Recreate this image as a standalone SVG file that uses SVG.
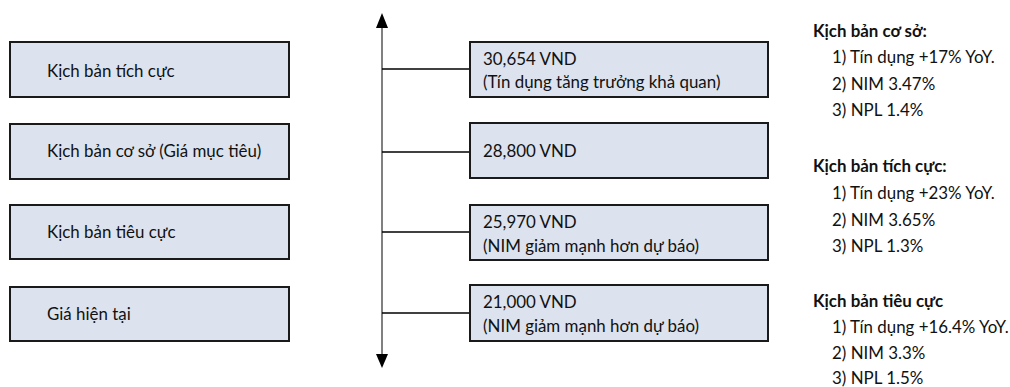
<svg xmlns="http://www.w3.org/2000/svg" width="1010" height="387" viewBox="0 0 1010 387">
<defs>
<style>
.box{fill:#DCE3EE;stroke:#1a1a1a;stroke-width:2}
.t{font-family:Lato,"Noto Sans",sans-serif;font-size:16.9px;fill:#111}
.h{font-weight:bold}
.axis{stroke:#808080;stroke-width:2;fill:none}
.conn{stroke:#000;stroke-width:1.6;fill:none}
.head{fill:#000}
</style>
</defs>
<rect width="1010" height="387" fill="#fff"/>
<g id="connectors">
<line class="axis" x1="382" y1="28" x2="382" y2="354"/>
<path class="head" d="M376,28 L388,28 L382,13 z"/>
<path class="head" d="M376,354 L388,354 L382,368 z"/>
<line class="conn" x1="382" y1="69" x2="470" y2="69"/>
<line class="conn" x1="382" y1="152" x2="470" y2="152"/>
<line class="conn" x1="382" y1="232" x2="470" y2="232"/>
<line class="conn" x1="382" y1="313" x2="470" y2="313"/>
</g>
<g id="left-positive">
<rect class="box" x="10" y="42" width="279" height="55"/>
<text class="t" x="47" y="77">Kịch bản tích cực</text>
</g>
<g id="left-base">
<rect class="box" x="10" y="124" width="279" height="55"/>
<text class="t" x="47" y="157">Kịch bản cơ sở (Giá mục tiêu)</text>
</g>
<g id="left-negative">
<rect class="box" x="10" y="205" width="279" height="54"/>
<text class="t" x="47" y="238">Kịch bản tiêu cực</text>
</g>
<g id="left-current">
<rect class="box" x="10" y="287" width="279" height="54"/>
<text class="t" x="47" y="320">Giá hiện tại</text>
</g>
<g id="right-positive">
<rect class="box" x="470" y="42" width="298" height="55"/>
<text class="t" x="483" y="65">30,654 VND</text>
<text class="t" x="483" y="88">(Tín dụng tăng trưởng khả quan)</text>
</g>
<g id="right-base">
<rect class="box" x="470" y="123" width="298" height="55"/>
<text class="t" x="483" y="157">28,800 VND</text>
</g>
<g id="right-negative">
<rect class="box" x="470" y="205" width="298" height="55"/>
<text class="t" x="483" y="228">25,970 VND</text>
<text class="t" x="483" y="252">(NIM giảm mạnh hơn dự báo)</text>
</g>
<g id="right-current">
<rect class="box" x="470" y="285" width="298" height="56"/>
<text class="t" x="483" y="308">21,000 VND</text>
<text class="t" x="483" y="332">(NIM giảm mạnh hơn dự báo)</text>
</g>
<g id="notes-base">
<text class="t h" x="813" y="37">Kịch bản cơ sở:</text>
<text class="t" x="832" y="63">1) Tín dụng +17% YoY.</text>
<text class="t" x="832" y="90">2) NIM 3.47%</text>
<text class="t" x="832" y="116">3) NPL 1.4%</text>
</g>
<g id="notes-positive">
<text class="t h" x="813" y="172">Kịch bản tích cực:</text>
<text class="t" x="832" y="199">1) Tín dụng +23% YoY.</text>
<text class="t" x="832" y="226">2) NIM 3.65%</text>
<text class="t" x="832" y="252">3) NPL 1.3%</text>
</g>
<g id="notes-negative">
<text class="t h" x="813" y="307">Kịch bản tiêu cực</text>
<text class="t" x="832" y="333">1) Tín dụng +16.4% YoY.</text>
<text class="t" x="832" y="359">2) NIM 3.3%</text>
<text class="t" x="832" y="384">3) NPL 1.5%</text>
</g>
</svg>
